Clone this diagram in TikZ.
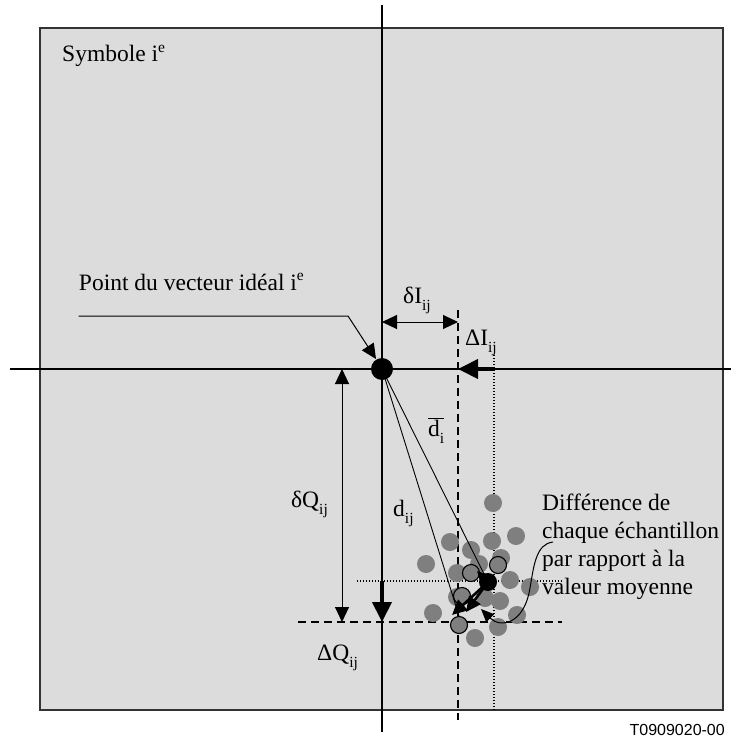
\documentclass[tikz,border=0pt]{standalone}
\usepackage{fontspec}
\setmainfont{Liberation Serif}
\newfontfamily\labelsans{Liberation Sans}
\usetikzlibrary{arrows.meta}
\definecolor{bgray}{HTML}{DCDCDC}
\definecolor{dotgray}{HTML}{7F7F7F}
\newcommand{\mysub}[1]{\raisebox{-0.32em}{\fontsize{15.5bp}{16bp}\selectfont #1}}
\newcommand{\mysup}[1]{\raisebox{0.42em}{\fontsize{15.5bp}{16bp}\selectfont #1}}
\begin{document}
\begin{tikzpicture}[x=1bp,y=-1bp,
  txt/.style={inner sep=0pt,font=\fontsize{23.5bp}{28bp}\selectfont},
  axis/.style={line width=1.1bp},
  dashln/.style={line width=1.5bp,dash pattern=on 8bp off 5bp},
  dotln/.style={line width=1.3bp,dash pattern=on 1.4bp off 1.6bp},
  tip/.style={-{Triangle[length=15bp,width=14bp]}},
  bigtip/.style={-{Triangle[length=20bp,width=19bp]}},
  dtip/.style={{Triangle[length=15bp,width=14bp]}-{Triangle[length=15bp,width=14bp]}},
  sample/.style={circle,fill=dotgray,minimum size=18bp,inner sep=0pt},
  osample/.style={circle,draw=black,fill=dotgray,line width=1.1bp,minimum size=17bp,inner sep=0pt},
  bigdot/.style={circle,fill=black,minimum size=#1,inner sep=0pt}]
\useasboundingbox (0,0) rectangle (731,738);
% frame
\draw[line width=1.8bp,draw=black!80,fill=bgray] (40,28) rectangle (723,710);
% axes
\coordinate (hl) at (10,369); \coordinate (hr) at (731,369);
\coordinate (vt) at (382,5); \coordinate (vb) at (382,732);
\draw[axis] (hl) -- (hr);
\draw[axis] (vt) -- (vb);
% reference lines
\coordinate (dvt) at (458,310); \coordinate (dvb) at (458,720);
\draw[dashln] (dvt) -- (dvb);
\coordinate (ovt) at (494,355); \coordinate (ovb) at (494,712);
\draw[dotln] (ovt) -- (ovb);
\coordinate (ohl) at (357,581); \coordinate (ohr) at (563,581);
\draw[dotln] (ohl) -- (ohr);
\coordinate (dhl) at (298,622); \coordinate (dhr) at (562,622);
\draw[dashln] (dhl) -- (dhr);
% samples
\foreach \n/\x/\y in {a/493/503, b/450/542, c/471/550, d/492/541, e/516/536, f/426/564,
  g/501/558, h/457/573, i/479/564, j/510/580, k/530/587, l/500/601, m/433/613,
  n/517/615, o/498/627, p/475/638, q/485/598, r/457/597}
  \node[sample] (s\n) at (\x,\y) {};
\node[osample] (o1) at (471,573) {};
\node[osample] (o2) at (498,565) {};
\node[osample] (o3) at (462,596) {};
\node[osample] (o4) at (459,625) {};
% ideal and mean points
\node[bigdot=22bp] (ideal) at (382,369) {};
\node[bigdot=18bp] (mean) at (488,582) {};
% distance lines
\draw[line width=0.9bp] (ideal.center) -- (mean.center);
\draw[line width=0.9bp] (ideal.center) -- (o4.north);
% deviation arrows from mean
\coordinate (m1) at (452,615);
\coordinate (m2) at (466,612);
\coordinate (m3) at (477,571);
\draw[line width=2.6bp,tip] (mean.center) -- (m1);
\draw[line width=2.6bp,tip] (mean.center) -- (m2);
\draw[line width=2.6bp,-{Triangle[length=10bp,width=10bp]}] (mean.center) -- (m3);
% delta arrows
\coordinate (dIa) at (382,322); \coordinate (dIb) at (458,322);
\draw[line width=1bp,dtip] (dIa) -- (dIb);
\coordinate (dQa) at (342,369); \coordinate (dQb) at (342,622);
\draw[line width=1bp,dtip] (dQa) -- (dQb);
\coordinate (DIa) at (494,369); \coordinate (DIb) at (458,369);
\draw[line width=4bp,bigtip] (DIa) -- (DIb);
\coordinate (DQa) at (382,581); \coordinate (DQb) at (382,622);
\draw[line width=4bp,bigtip] (DQa) -- (DQb);
% labels
\node[txt,anchor=base west] (sym) at (62,62) {Symbole i\mysup{e}};
\node[txt,anchor=base east] (pt) at (304,290) {Point du vecteur idéal i\mysup{e}};
\coordinate (pl0) at (pt.west |- 0,316); \coordinate (pl1) at (348,316); \coordinate (pl2) at (376,359);
\draw[line width=1bp,tip] (pl0) -- (pl1) -- (pl2);
\node[txt,anchor=base west] (ldI) at (403,303) {δI\mysub{ij}};
\node[txt,anchor=base west] (lDI) at (465,345) {ΔI\mysub{ij}};
\node[txt,anchor=base west] (ldbar) at (428,436) {$\overline{\hbox{d\mysub{i}}}$};
\node[txt,anchor=base west] (ldij) at (393,516) {d\mysub{ij}};
\node[txt,anchor=base east] (ldQ) at (328,507) {δQ\mysub{ij}};
\node[txt,anchor=base west] (lDQ) at (317,660) {ΔQ\mysub{ij}};
\node[txt,anchor=base west,align=left] (diff) at (542,594) {Différence de\\chaque échantillon\\par rapport à la\\valeur moyenne};
\coordinate (c0) at (553,542);
\coordinate (c1) at (530,588);
\coordinate (c2) at (481,609);
\draw[line width=1bp] (c0) .. controls (536,544) and (534,565) .. (c1);
\draw[line width=1bp,-{Triangle[length=13bp,width=11bp]}] (c1) .. controls (524,625) and (500,628) .. (c2);
\node[anchor=base east,inner sep=0pt,font=\labelsans\fontsize{16bp}{18bp}\selectfont] (code) at (725,735) {T0909020-00};
\end{tikzpicture}
\end{document}
